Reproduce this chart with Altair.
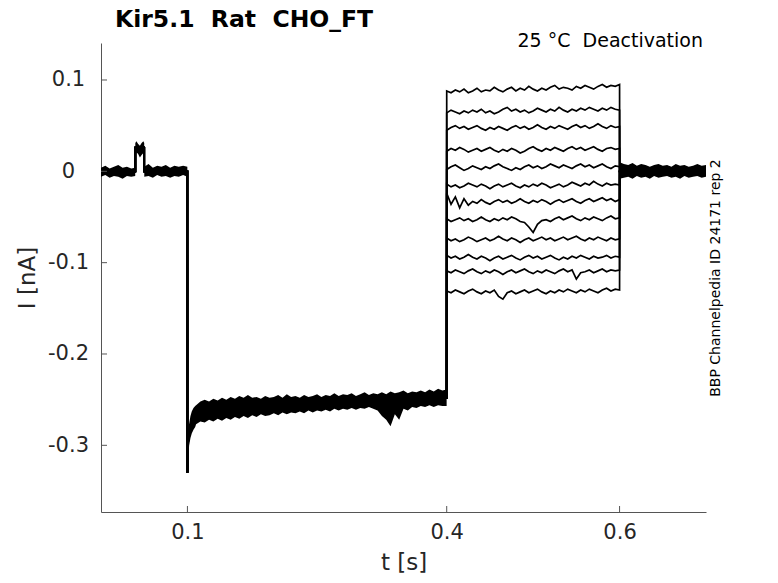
import altair as alt
import pandas as pd

# ---------------- values ----------------
# shared pre-pulse part of every sweep (t in s, I in nA)
pre_t = [0.0000, 0.0397, 0.0397, 0.0500, 0.0500, 0.0999]
pre_i = [0.000, 0.000, 0.026, 0.026, 0.000, 0.000]

# shared hyperpolarised part (mean trace)
hyp_t = [0.1000, 0.1004, 0.1020, 0.1050, 0.1100, 0.1200, 0.1500, 0.2000, 0.2500, 0.3000, 0.3500, 0.3999]
hyp_i = [-0.330, -0.300, -0.285, -0.275, -0.266, -0.262, -0.258, -0.256, -0.254, -0.252, -0.250, -0.248]

# deactivation step 0.4 .. 0.6 s, one value every 5 ms (x1e-3 nA), 12 sweeps
step_t = [round(0.4 + 0.005 * k, 4) for k in range(41)]
sweeps = [
    [88, 86, 89, 87, 90, 86, 88, 91, 87, 89, 88, 92, 89, 87, 90, 92, 88, 91, 89, 93, 90, 88, 91, 89, 92, 94, 90, 92, 91, 89, 93, 91, 94, 92, 90, 93, 95, 92, 94, 93, 95],
    [64, 67, 65, 63, 66, 64, 67, 65, 68, 64, 66, 63, 65, 68, 70, 66, 68, 65, 67, 64, 66, 69, 67, 65, 68, 66, 70, 67, 65, 68, 66, 69, 67, 70, 68, 66, 69, 67, 70, 68, 67],
    [45, 48, 50, 47, 49, 46, 48, 50, 47, 45, 48, 46, 49, 47, 45, 48, 50, 47, 49, 46, 48, 51, 48, 46, 49, 47, 50, 48, 46, 49, 51, 48, 50, 47, 49, 52, 49, 47, 50, 48, 49],
    [22, 25, 23, 26, 24, 21, 23, 25, 22, 24, 26, 23, 21, 24, 22, 25, 23, 20, 22, 25, 27, 24, 22, 25, 23, 26, 24, 22, 25, 27, 24, 26, 23, 25, 27, 24, 22, 25, 26, 24, 25],
    [2, 5, 7, 4, 1, 3, 6, 4, 2, 5, 3, 6, 8, 5, 3, 1, 4, 2, 5, 7, 4, 6, 3, 5, 8, 6, 4, 7, 5, 3, 6, 8, 5, 7, 4, 6, 8, 5, 3, 6, 5],
    [-14, -17, -15, -18, -16, -13, -15, -17, -14, -16, -19, -16, -14, -17, -15, -13, -16, -18, -15, -17, -14, -16, -13, -15, -18, -16, -14, -17, -15, -12, -14, -16, -13, -15, -11, -14, -16, -13, -15, -14, -15],
    [-24, -36, -28, -40, -30, -37, -33, -35, -31, -34, -36, -33, -31, -34, -32, -35, -33, -30, -33, -35, -32, -34, -31, -33, -36, -33, -31, -34, -32, -30, -33, -35, -32, -30, -33, -31, -29, -32, -30, -33, -31],
    [-52, -55, -53, -51, -54, -52, -55, -53, -50, -53, -55, -52, -54, -51, -53, -50, -52, -55, -56, -61, -67, -58, -54, -53, -55, -52, -50, -53, -51, -49, -52, -54, -51, -53, -50, -52, -54, -51, -49, -52, -51],
    [-73, -76, -74, -77, -75, -72, -74, -77, -75, -73, -76, -74, -71, -74, -76, -73, -75, -78, -75, -73, -76, -74, -72, -75, -73, -76, -74, -72, -75, -73, -71, -74, -76, -73, -75, -72, -74, -76, -73, -75, -74],
    [-92, -95, -93, -96, -94, -91, -94, -96, -93, -95, -98, -95, -93, -96, -94, -92, -95, -97, -94, -92, -95, -93, -96, -94, -92, -95, -97, -94, -96, -93, -95, -92, -94, -96, -93, -95, -94, -92, -95, -93, -94],
    [-109, -111, -108, -110, -112, -109, -107, -110, -112, -109, -111, -108, -110, -113, -110, -108, -111, -109, -107, -110, -112, -109, -111, -108, -110, -112, -109, -107, -110, -108, -118, -111, -110, -108, -111, -109, -107, -110, -108, -109, -108],
    [-131, -133, -130, -132, -134, -131, -129, -132, -134, -131, -133, -130, -137, -140, -133, -131, -134, -132, -130, -133, -131, -129, -132, -134, -131, -133, -130, -132, -129, -131, -133, -130, -132, -129, -131, -133, -130, -128, -131, -129, -130],
]

# shared return to holding after 0.6 s
post_t = [0.6001, 0.7000]
post_i = [0.000, 0.000]

# noise envelopes of the overlapping sweeps (x1e-3 nA)
base_t = [0.000, 0.005, 0.010, 0.015, 0.020, 0.025, 0.030, 0.035, 0.0396, 0.0397, 0.041, 0.043, 0.045, 0.047, 0.049, 0.0500, 0.0501,
          0.055, 0.060, 0.065, 0.070, 0.075, 0.080, 0.085, 0.090, 0.095, 0.0999]
base_hi = [4, 6, 3, 5, 7, 4, 5, 3, 4, 31, 33, 30, 28, 31, 33, 31, 5, 8, 4, 6, 5, 7, 4, 6, 5, 6, 5]
base_lo = [-6, -4, -7, -5, -6, -8, -5, -6, -5, 17, 21, 19, 15, 18, 20, 16, -6, -5, -7, -4, -6, -5, -7, -5, -6, -4, -6]

hyp_env_t = [0.1000, 0.1010, 0.1020, 0.1035, 0.1050, 0.1070, 0.1090,
             0.110, 0.115, 0.120, 0.125, 0.130, 0.135, 0.140, 0.145, 0.150, 0.155,
             0.160, 0.165, 0.170, 0.175, 0.180, 0.185, 0.190, 0.195, 0.200, 0.205,
             0.210, 0.215, 0.220, 0.225, 0.230, 0.235, 0.240, 0.245, 0.250, 0.255,
             0.260, 0.265, 0.270, 0.275, 0.280, 0.285, 0.290, 0.295, 0.300, 0.305,
             0.310, 0.315, 0.320, 0.325, 0.330, 0.335, 0.340, 0.345, 0.350, 0.355,
             0.360, 0.365, 0.370, 0.375, 0.380, 0.385, 0.390, 0.395, 0.3999]
hyp_hi = [-290, -282, -276, -268, -263, -259, -257,
          -256, -252, -250, -252, -249, -251, -248, -250, -247, -249,
          -246, -248, -245, -248, -247, -249, -246, -248, -247, -245,
          -248, -244, -247, -246, -248, -245, -247, -246, -244, -247,
          -245, -246, -243, -246, -244, -245, -243, -246, -244, -242,
          -245, -243, -244, -242, -244, -241, -243, -242, -240, -243,
          -241, -242, -240, -242, -239, -241, -238, -240, -239]
hyp_lo = [-331, -312, -300, -292, -287, -283, -280,
          -277, -274, -275, -272, -274, -271, -273, -270, -272, -269,
          -271, -268, -270, -267, -269, -266, -268, -267, -265, -267,
          -264, -266, -264, -265, -263, -265, -262, -264, -262, -263,
          -261, -263, -260, -262, -260, -261, -259, -261, -259, -260,
          -258, -260, -262, -268, -272, -279, -266, -272, -260, -262,
          -258, -259, -257, -258, -256, -258, -256, -257, -257]

post_env_t = [0.6001, 0.605, 0.610, 0.615, 0.620, 0.625, 0.630, 0.635, 0.640, 0.645, 0.650,
              0.655, 0.660, 0.665, 0.670, 0.675, 0.680, 0.685, 0.690, 0.695, 0.700]
post_hi = [10, 8, 7, 9, 6, 8, 7, 5, 7, 8, 6, 7, 5, 8, 6, 7, 5, 6, 8, 6, 7]
post_lo = [-8, -7, -6, -8, -5, -7, -6, -8, -5, -7, -6, -5, -7, -6, -8, -5, -7, -6, -5, -7, -6]

x_ticks = [0.1, 0.4, 0.6]
y_ticks = [0.1, 0.0, -0.1, -0.2, -0.3]

NB = "\u00a0"
title_text = f"Kir5.1{NB}{NB}Rat{NB}{NB}CHO_FT"
cond_text = f"25 °C{NB}{NB}Deactivation"
ident_text = "BBP Channelpedia ID 24171 rep 2"

# ---------------- tables ----------------
rows = []
for s, vals in enumerate(sweeps):
    ts = pre_t + hyp_t + step_t + post_t
    ys = pre_i + hyp_i + [v / 1000 for v in vals] + post_i
    for k, (t, y) in enumerate(zip(ts, ys)):
        rows.append({"t": t, "I": y, "sweep": s, "k": k})
lines_df = pd.DataFrame(rows)

env_rows = []
for seg, ts, hi, lo in [("base", base_t, base_hi, base_lo),
                        ("hyp", hyp_env_t, hyp_hi, hyp_lo),
                        ("post", post_env_t, post_hi, post_lo)]:
    for t, h, l in zip(ts, hi, lo):
        env_rows.append({"t": t, "hi": h / 1000, "lo": l / 1000, "seg": seg})
env_df = pd.DataFrame(env_rows)

W, H = 605, 469
xscale = alt.Scale(domain=[0, 0.7], nice=False, zero=False)
yscale = alt.Scale(domain=[-0.373, 0.1405], nice=False, zero=False)

FONT = "DejaVu Sans"
AX = "#262626"

x_axis = alt.Axis(values=x_ticks, format=".1f", title="t [s]", ticks=False, tickSize=0,
                  labelPadding=20, labelBaseline="middle", titleY=50, titleBaseline="middle",
                  titleX=W / 2)
y_axis = alt.Axis(values=y_ticks, title="I [nA]", ticks=False, tickSize=0,
                  labelExpr="datum.value == 0 ? '0' : (datum.value < 0 ? '-' + format(-datum.value, '.1f') : format(datum.value, '.1f'))",
                  labelAlign="center", labelBaseline="middle", labelPadding=33,
                  titleX=-74, titleY=H / 2, titleBaseline="middle")

areas = alt.Chart(env_df).mark_area(color="black", opacity=1, strokeWidth=0).encode(
    x=alt.X("t:Q", scale=xscale, axis=x_axis, title="t [s]"),
    y=alt.Y("hi:Q", scale=yscale, axis=y_axis, title="I [nA]"),
    y2="lo:Q",
    detail="seg:N",
)

lines = alt.Chart(lines_df).mark_line(color="black", strokeWidth=1.7).encode(
    x=alt.X("t:Q", scale=xscale, axis=x_axis, title="t [s]"),
    y=alt.Y("I:Q", scale=yscale, axis=y_axis, title="I [nA]"),
    detail="sweep:N",
    order="k:Q",
)

xt = alt.Chart(pd.DataFrame({"v": x_ticks})).mark_rule(color="#555555", strokeWidth=1).encode(
    x=alt.X("v:Q", scale=xscale, axis=x_axis, title="t [s]"), y=alt.value(H), y2=alt.value(H - 6))
yt = alt.Chart(pd.DataFrame({"v": y_ticks})).mark_rule(color="#555555", strokeWidth=1).encode(
    y=alt.Y("v:Q", scale=yscale, axis=y_axis, title="I [nA]"), x=alt.value(0), x2=alt.value(6))

title = alt.Chart(pd.DataFrame({"s": [title_text]})).mark_text(
    font=FONT, fontSize=23.5, fontWeight="bold", color="black",
    align="left", baseline="alphabetic").encode(
    x=alt.value(14), y=alt.value(-16), text="s:N")
cond = alt.Chart(pd.DataFrame({"s": [cond_text]})).mark_text(
    font=FONT, fontSize=19, color="black", align="right", baseline="alphabetic").encode(
    x=alt.value(602), y=alt.value(4), text="s:N")
ident = alt.Chart(pd.DataFrame({"s": [ident_text]})).mark_text(
    font=FONT, fontSize=14, color="black", align="center", baseline="middle", angle=270).encode(
    x=alt.value(615), y=alt.value(235), text="s:N")

chart = alt.layer(areas, lines, xt, yt, title, cond, ident).properties(
    width=W, height=H,
    autosize=alt.AutoSizeParams(type="none"),
    padding={"left": 93, "top": 35, "right": 64, "bottom": 61},
).configure_view(stroke=None).configure_axis(
    domainColor="#555555", domainWidth=1, grid=False,
    labelFont=FONT, labelFontSize=21, labelColor=AX,
    titleFont=FONT, titleFontSize=23, titleFontWeight="normal", titleColor=AX,
)

chart.save("out.html", embed_options={"renderer": "svg", "actions": False})
